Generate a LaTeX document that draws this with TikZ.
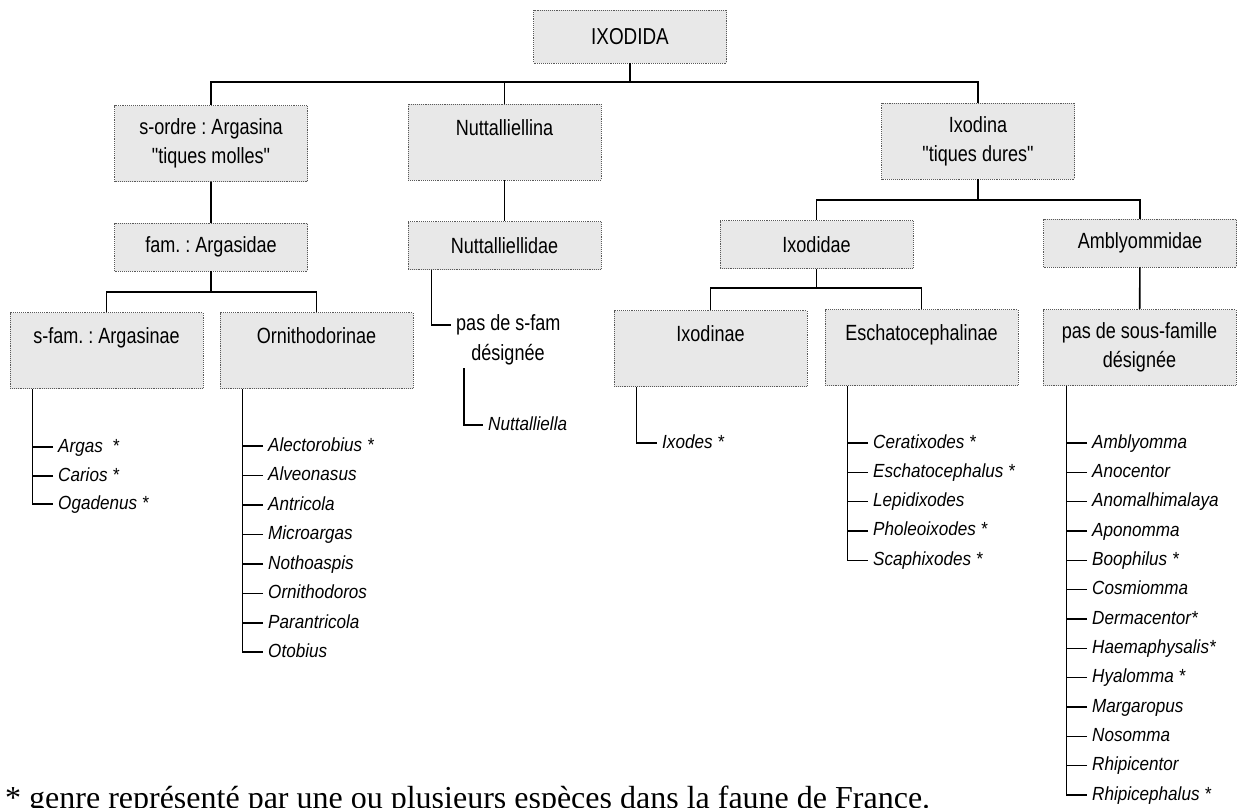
\documentclass[tikz,border=0pt]{standalone}
\usepackage{fontspec}
\setmainfont{Liberation Serif}
\setsansfont{Liberation Sans}
\newfontfamily\boxfont{Liberation Sans}[FakeStretch=0.82]
\newfontfamily\genusfont{Liberation Sans}[FakeStretch=0.9]
\usepackage{tikz}
\colorlet{penColor}{black}
\colorlet{boxLine}{black!65}
\colorlet{fill1}{black!9}
\tikzset{
  taxbox/.style={draw=boxLine,fill=fill1,densely dotted,line width=.9pt,
    minimum width=193pt,align=center,inner sep=0pt,
    font=\boxfont\frenchspacing\fontsize{22}{29}\selectfont},
  tall/.style={taxbox,minimum height=76pt},
  flat/.style={taxbox,minimum height=48pt},
  genus/.style={anchor=west,inner sep=5pt,text height=14pt,text depth=4pt,
    font=\genusfont\itshape\fontsize{19}{22}\selectfont},
  plain/.style={inner sep=5pt,text height=15pt,text depth=4pt,
    font=\boxfont\fontsize{22}{26}\selectfont},
  trunk/.style={penColor,line width=1.6pt},
  twig/.style={penColor,line width=1.4pt}
}

\begin{document}
\begin{tikzpicture}[x=1pt,y=-1pt]
  \useasboundingbox (0,0) rectangle (1237,807);

  % order
  \node[taxbox,minimum height=53pt,font=\boxfont\fontsize{23}{26}\selectfont]
    (ixodida) at (630,36.5) {IXODIDA};

  % sub-orders
  \node[tall] (argasina) at (211,143.5) {s-ordre : Argasina\\\char34 tiques molles\char34};
  \node[tall] (nuttina) at (504.5,142) {Nuttalliellina\\\mbox{}};
  \node[tall] (ixodina) at (978,141) {Ixodina\\\char34 tiques dures\char34};

  % families
  \node[flat] (argasidae) at (211,247) {fam. : Argasidae};
  \node[flat] (nuttidae) at (504.5,245.5) {Nuttalliellidae};
  \node[flat] (ixodidae) at (816.5,244.5) {Ixodidae};
  \node[flat] (amblyommidae) at (1140,243) {Amblyommidae};

  % sub-families
  \node[tall] (argasinae) at (106.5,350.5) {s-fam. : Argasinae\\\mbox{}};
  \node[tall] (ornithodorinae) at (316.5,350.5) {Ornithodorinae\\\mbox{}};
  \node[tall] (ixodinae) at (710.5,348.5) {Ixodinae\\\mbox{}};
  \node[tall] (eschato) at (921.5,347.5) {Eschatocephalinae\\\mbox{}};
  \node[tall] (sansfam) at (1139.5,347.5) {pas de sous-famille\\d\'esign\'ee};

  % tree
  \coordinate (top) at (630,82);
  \draw[trunk] (ixodida) -- (top);
  \draw[trunk] (argasina.north) |- (top) -| (ixodina.north);
  \draw[trunk] (nuttina.north) -- (nuttina.north |- top);
  \draw[trunk] (argasina) -- (argasidae);
  \draw[trunk] (nuttina) -- (nuttidae);
  \coordinate (ixj) at (978,200);
  \draw[trunk] (ixodina) -- (ixj);
  \draw[trunk] (ixodidae.north) |- (ixj) -| (amblyommidae.north);
  \coordinate (agj) at (211,292);
  \draw[trunk] (argasidae) -- (agj);
  \draw[trunk] (argasinae.north) |- (agj) -| (ornithodorinae.north);
  \coordinate (idj) at (816.5,288);
  \draw[trunk] (ixodidae) -- (idj);
  \draw[trunk] (ixodinae.north) |- (idj) -| (eschato.north);
  \draw[trunk] (amblyommidae) -- (sansfam);

  % Argasinae
  \node[genus] (argas) at (53,447) {Argas\enspace *};
  \node[genus] (carios) at (53,476) {Carios *};
  \node[genus] (ogadenus) at (53,504) {Ogadenus *};
  \draw[twig] (argasinae.south west) ++(23,0) |- (ogadenus.west);
  \draw[twig] (argas.west) -- ++(-20,0);
  \draw[twig] (carios.west) -- ++(-20,0);

  % Ornithodorinae
  \node[genus] (alectorobius) at (263,446) {Alectorobius *};
  \node[genus] (alveonasus) at (263,475.5) {Alveonasus};
  \node[genus] (antricola) at (263,505) {Antricola};
  \node[genus] (microargas) at (263,534.5) {Microargas};
  \node[genus] (nothoaspis) at (263,564) {Nothoaspis};
  \node[genus] (ornithodoros) at (263,593.5) {Ornithodoros};
  \node[genus] (parantricola) at (263,623) {Parantricola};
  \node[genus] (otobius) at (263,652) {Otobius};
  \draw[twig] (ornithodorinae.south west) ++(23,0) |- (otobius.west);
  \draw[twig] (alectorobius.west) -- ++(-20,0);
  \draw[twig] (alveonasus.west) -- ++(-20,0);
  \draw[twig] (antricola.west) -- ++(-20,0);
  \draw[twig] (microargas.west) -- ++(-20,0);
  \draw[twig] (nothoaspis.west) -- ++(-20,0);
  \draw[twig] (ornithodoros.west) -- ++(-20,0);
  \draw[twig] (parantricola.west) -- ++(-20,0);

  % Nuttalliellidae
  \node[plain,anchor=west] (passfam) at (451,325) {pas de s-fam};
  \node[plain] (designee) at (508,355) {d\'esign\'ee};
  \draw[twig] (nuttidae.south west) ++(24,0) |- (passfam.west);
  \coordinate (ntop) at (464,368);
  \node[genus] (nuttalliella) at (483,425) {Nuttalliella};
  \draw[twig] (ntop) |- (nuttalliella.west);

  % Ixodinae
  \node[genus] (ixodes) at (657,443) {Ixodes *};
  \draw[twig] (ixodinae.south west) ++(23,0) |- (ixodes.west);

  % Eschatocephalinae
  \node[genus] (ceratixodes) at (868,443) {Ceratixodes *};
  \node[genus] (eschatocephalus) at (868,472.3) {Eschatocephalus *};
  \node[genus] (lepidixodes) at (868,501.6) {Lepidixodes};
  \node[genus] (pholeoixodes) at (868,530.9) {Pholeoixodes *};
  \node[genus] (scaphixodes) at (868,560.2) {Scaphixodes *};
  \draw[twig] (eschato.south west) ++(23,0) |- (scaphixodes.west);
  \draw[twig] (ceratixodes.west) -- ++(-20,0);
  \draw[twig] (eschatocephalus.west) -- ++(-20,0);
  \draw[twig] (lepidixodes.west) -- ++(-20,0);
  \draw[twig] (pholeoixodes.west) -- ++(-20,0);

  % Amblyommidae
  \node[genus] (amblyomma) at (1087,443) {Amblyomma};
  \node[genus] (anocentor) at (1087,472.3) {Anocentor};
  \node[genus] (anomalhimalaya) at (1087,501.7) {Anomalhimalaya};
  \node[genus] (aponomma) at (1087,531) {Aponomma};
  \node[genus] (boophilus) at (1087,560.3) {Boophilus *};
  \node[genus] (cosmiomma) at (1087,589.7) {Cosmiomma};
  \node[genus] (dermacentor) at (1087,619) {Dermacentor*};
  \node[genus] (haemaphysalis) at (1087,648.3) {Haemaphysalis*};
  \node[genus] (hyalomma) at (1087,677.7) {Hyalomma *};
  \node[genus] (margaropus) at (1087,707) {Margaropus};
  \node[genus] (nosomma) at (1087,736.3) {Nosomma};
  \node[genus] (rhipicentor) at (1087,765.7) {Rhipicentor};
  \node[genus] (rhipicephalus) at (1087,795) {Rhipicephalus *};
  \draw[twig] (sansfam.south west) ++(24,0) |- (rhipicephalus.west);
  \draw[twig] (amblyomma.west) -- ++(-20,0);
  \draw[twig] (anocentor.west) -- ++(-20,0);
  \draw[twig] (anomalhimalaya.west) -- ++(-20,0);
  \draw[twig] (aponomma.west) -- ++(-20,0);
  \draw[twig] (boophilus.west) -- ++(-20,0);
  \draw[twig] (cosmiomma.west) -- ++(-20,0);
  \draw[twig] (dermacentor.west) -- ++(-20,0);
  \draw[twig] (haemaphysalis.west) -- ++(-20,0);
  \draw[twig] (hyalomma.west) -- ++(-20,0);
  \draw[twig] (margaropus.west) -- ++(-20,0);
  \draw[twig] (nosomma.west) -- ++(-20,0);
  \draw[twig] (rhipicentor.west) -- ++(-20,0);

  % footnote
  \node[anchor=base west,inner sep=0pt,font=\rmfamily\fontsize{32}{36}\selectfont]
    (note) at (5,808) {* genre repr\'esent\'e par une ou plusieurs esp\`eces dans la faune de France.};
\end{tikzpicture}
\end{document}
